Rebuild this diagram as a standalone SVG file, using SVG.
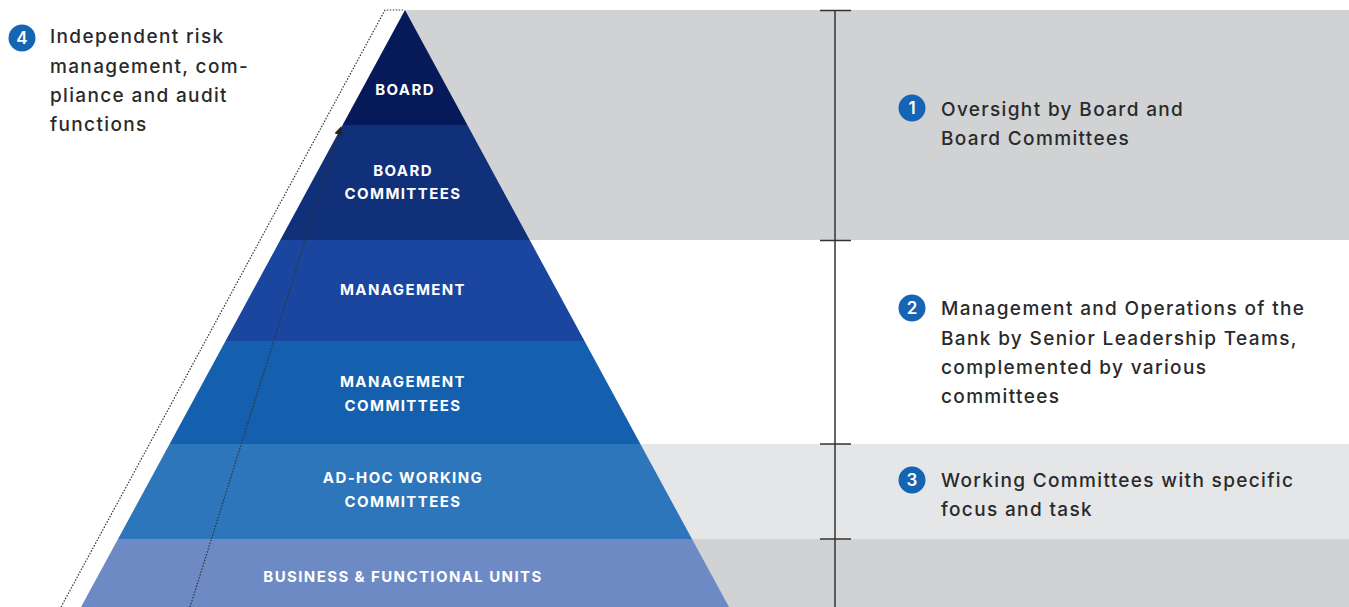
<svg xmlns="http://www.w3.org/2000/svg" width="1349" height="607" viewBox="0 0 1349 607">
<style>
.lbl{font-family:"Inter","Liberation Sans",sans-serif;font-weight:700;font-size:15px;fill:#ffffff;text-anchor:middle;letter-spacing:1.4px}
.txt{font-family:"Inter","Liberation Sans",sans-serif;font-weight:500;font-size:19px;fill:#2a2a2a;letter-spacing:1.35px}
.num{font-family:"Inter","Liberation Sans",sans-serif;font-weight:600;font-size:17px;fill:#ffffff;text-anchor:middle}
.badge{fill:#1565b4}
.tick{stroke:#333333;stroke-width:1.5}
.dot{fill:none;stroke:#333333;stroke-width:1.2;stroke-dasharray:1.5 1.5}
</style>
<defs>
<marker id="arr" viewBox="0 0 10 10" refX="9" refY="5" markerWidth="9" markerHeight="9" orient="auto" markerUnits="userSpaceOnUse">
<path d="M0,0 L10,5 L0,10 z" fill="#222222"/>
</marker>
</defs>
<rect width="1349" height="607" fill="#ffffff"/>
<g id="bands">
<rect x="405" y="10" width="944" height="230" fill="#d1d2d4"/>
<rect x="405" y="444" width="944" height="95" fill="#e5e6e8"/>
<rect x="405" y="539" width="944" height="68" fill="#d1d2d4"/>
</g>
<g id="pyramid">
<g id="board"><polygon points="405,10 467.4,125 342.6,125" fill="#061a5a"/><text class="lbl" x="405" y="94.5">BOARD</text></g>
<g id="board-committees"><polygon points="342.6,125 467.4,125 529.7,240 280.3,240" fill="#11307a"/><text class="lbl" x="403" y="175.5">BOARD</text><text class="lbl" x="403" y="198.5">COMMITTEES</text></g>
<g id="management"><polygon points="280.3,240 529.7,240 584.5,341 225.5,341" fill="#1a46a0"/><text class="lbl" x="403" y="294.5">MANAGEMENT</text></g>
<g id="management-committees"><polygon points="225.5,341 584.5,341 640.4,444 169.6,444" fill="#1560ae"/><text class="lbl" x="403" y="386.5">MANAGEMENT</text><text class="lbl" x="403" y="410.5">COMMITTEES</text></g>
<g id="adhoc"><polygon points="169.6,444 640.4,444 692,539 118,539" fill="#2e76bc"/><text class="lbl" x="403" y="482.5">AD-HOC WORKING</text><text class="lbl" x="403" y="506.5">COMMITTEES</text></g>
<g id="business"><polygon points="118,539 692,539 729,607 81,607" fill="#6d8ac5"/><text class="lbl" x="403" y="581.5">BUSINESS &amp; FUNCTIONAL UNITS</text></g>
</g>
<g id="connectors">
<polyline class="dot" points="61,607 385,10 403,10"/>
<line class="dot" x1="190" y1="607" x2="341" y2="127" marker-end="url(#arr)"/>
<line class="tick" x1="835" y1="10" x2="835" y2="607"/>
<line class="tick" x1="820" y1="10.5" x2="851" y2="10.5"/>
<line class="tick" x1="820" y1="240.5" x2="851" y2="240.5"/>
<line class="tick" x1="820" y1="444" x2="851" y2="444"/>
<line class="tick" x1="820" y1="539" x2="851" y2="539"/>
</g>
<g id="note4">
<circle class="badge" cx="22" cy="38" r="13.5"/><text class="num" x="22" y="44">4</text>
<text class="txt" x="50" y="43">Independent risk</text>
<text class="txt" x="50" y="72.5">management, com-</text>
<text class="txt" x="50" y="102">pliance and audit</text>
<text class="txt" x="50" y="131">functions</text>
</g>
<g id="note1">
<circle class="badge" cx="912" cy="108" r="13.5"/><text class="num" x="912" y="114">1</text>
<text class="txt" x="941" y="116">Oversight by Board and</text>
<text class="txt" x="941" y="145">Board Committees</text>
</g>
<g id="note2">
<circle class="badge" cx="912" cy="308" r="13.5"/><text class="num" x="912" y="314">2</text>
<text class="txt" x="941" y="315">Management and Operations of the</text>
<text class="txt" x="941" y="344.5">Bank by Senior Leadership Teams,</text>
<text class="txt" x="941" y="374">complemented by various</text>
<text class="txt" x="941" y="403">committees</text>
</g>
<g id="note3">
<circle class="badge" cx="912" cy="480" r="13.5"/><text class="num" x="912" y="486">3</text>
<text class="txt" x="941" y="487">Working Committees with specific</text>
<text class="txt" x="941" y="516">focus and task</text>
</g>
</svg>
